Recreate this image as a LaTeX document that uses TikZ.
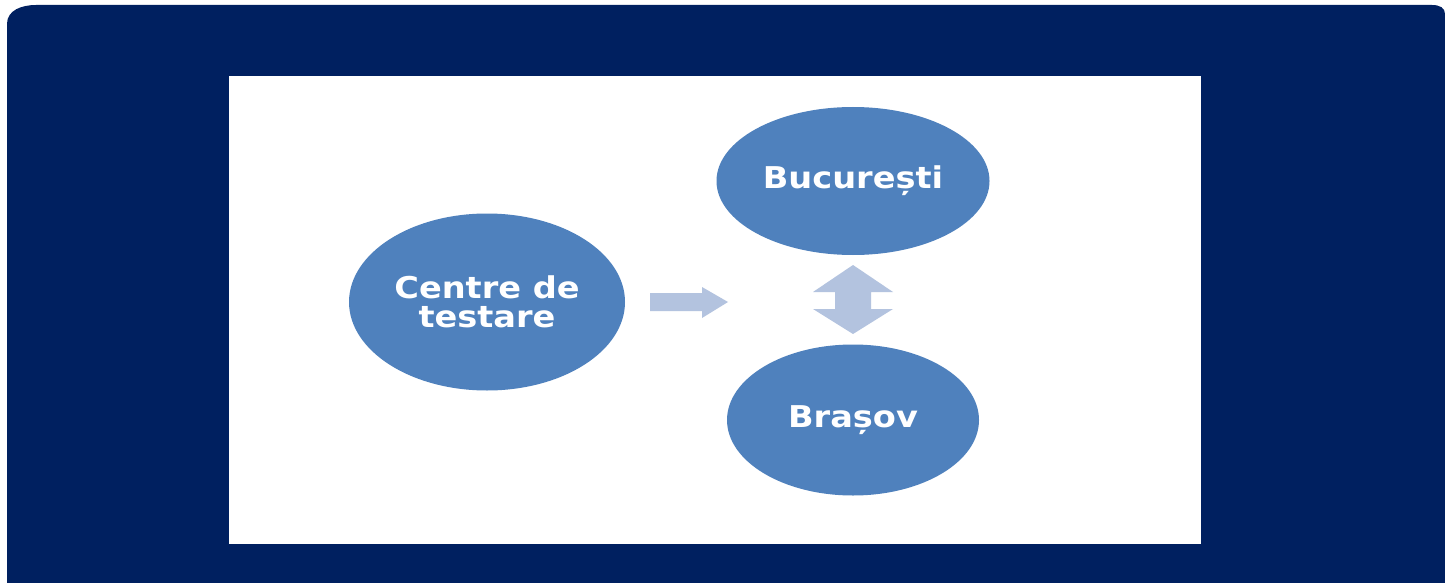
\documentclass[tikz,border=0pt]{standalone}
\usepackage{fontspec}
\newfontfamily\lblfont[FakeStretch=1.12]{DejaVu Sans}
\usetikzlibrary{shapes.geometric}
\definecolor{navy}{HTML}{002060}
\definecolor{bubble}{HTML}{4F81BD}
\definecolor{arrowc}{HTML}{B3C3DF}
\tikzset{
  bubble/.style={ellipse, fill=bubble, draw=none, text=white, align=center,
    inner sep=0pt, font=\lblfont\bfseries\fontsize{30}{29}\selectfont},
  blockarrow/.style={fill=arrowc, draw=none}
}
\begin{document}
\begin{tikzpicture}[x=1pt,y=-1pt]
\useasboundingbox (0,0) rectangle (1445,583);
\fill[white] (0,0) rectangle (1445,583);
% dark frame
\fill[navy] (7,583) -- (7,24) .. controls (7,10) and (22,5) .. (36,5) -- (1432,5)
  .. controls (1440,5) and (1445,8) .. (1445,14) -- (1445,583) -- cycle;
% white panel
\fill[white] (229,76) rectangle (1201,544);
% bubbles
\node[bubble, minimum width=276pt, minimum height=177pt] (centre) at (487,302) {Centre de\\testare};
\node[bubble, minimum width=273pt, minimum height=148pt] (buc) at (853,181) {București};
\node[bubble, minimum width=252pt, minimum height=151pt] (bra) at (853,420) {Brașov};
% right block arrow
\fill[blockarrow] (650,293) -- (702,293) -- (702,287) -- (728,302) -- (702,318)
  -- (702,311) -- (650,311) -- cycle;
% up-down block arrow
\fill[blockarrow] (853,265) -- (893,292) -- (871,292) -- (871,309) -- (893,309)
  -- (853,334) -- (813,309) -- (835,309) -- (835,292) -- (813,292) -- cycle;
\end{tikzpicture}
\end{document}
